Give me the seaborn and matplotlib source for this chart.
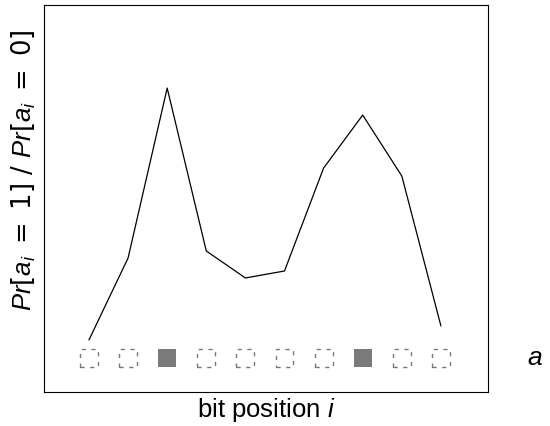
import numpy as np
import pandas as pd
import matplotlib
matplotlib.use("Agg")
import matplotlib.pyplot as plt
import seaborn as sns
from matplotlib.patches import Rectangle

# data
bit_pos = [0, 1, 2, 3, 4, 5, 6, 7, 8, 9]
ratio = [0.52, 1.34, 3.04, 1.41, 1.14, 1.21, 2.24, 2.77, 2.16, 0.66]
bits = [0, 0, 1, 0, 0, 0, 0, 1, 0, 0]

df = pd.DataFrame({"i": bit_pos, "ratio": ratio})

sns.set_style("white")
plt.rcParams["font.family"] = ["Liberation Sans", "DejaVu Sans"]
plt.rcParams["mathtext.fontset"] = "custom"
plt.rcParams["mathtext.rm"] = "DejaVu Sans"
plt.rcParams["mathtext.it"] = "Liberation Sans:italic"
plt.rcParams["text.color"] = "black"
plt.rcParams["axes.labelcolor"] = "black"

fig = plt.figure(figsize=(5.5, 4.26), dpi=100)
ax = fig.add_axes([0.08, 0.08, 0.807, 0.908])

sns.lineplot(data=df, x="i", y="ratio", color="black", linewidth=0.9, ax=ax)

# bit squares
row_y = 0.34
w, h = 0.46, 0.18
for i, b in zip(bit_pos, bits):
    if b:
        ax.add_patch(Rectangle((i - w / 2, row_y - h / 2), w, h,
                               facecolor="#7a7a7a", edgecolor="none"))
    else:
        ax.add_patch(Rectangle((i - w / 2, row_y - h / 2), w, h,
                               facecolor="none", edgecolor="#777777",
                               linewidth=1.0, linestyle=(0, (3, 4))))

ax.text(11.4, row_y, "$a$", fontsize=19, ha="center", va="center", clip_on=False)

ax.set_xlim(-1.15, 10.2)
ax.set_ylim(0, 3.87)
ax.set_xticks([])
ax.set_yticks([])
for s in ax.spines.values():
    s.set_color("black")
    s.set_linewidth(0.8)

ax.set_xlabel("bit position $i$", fontsize=18.5, labelpad=3)
sp = r"\:\,"
ax.set_ylabel(rf"$Pr[a_i{sp}{{=}}{sp}1]{sp}/{sp}Pr[a_i{sp}{{=}}{sp}0]$", fontsize=18.5)
ax.yaxis.set_label_coords(-0.016, 0.574)

plt.savefig("out.png", dpi=100)
